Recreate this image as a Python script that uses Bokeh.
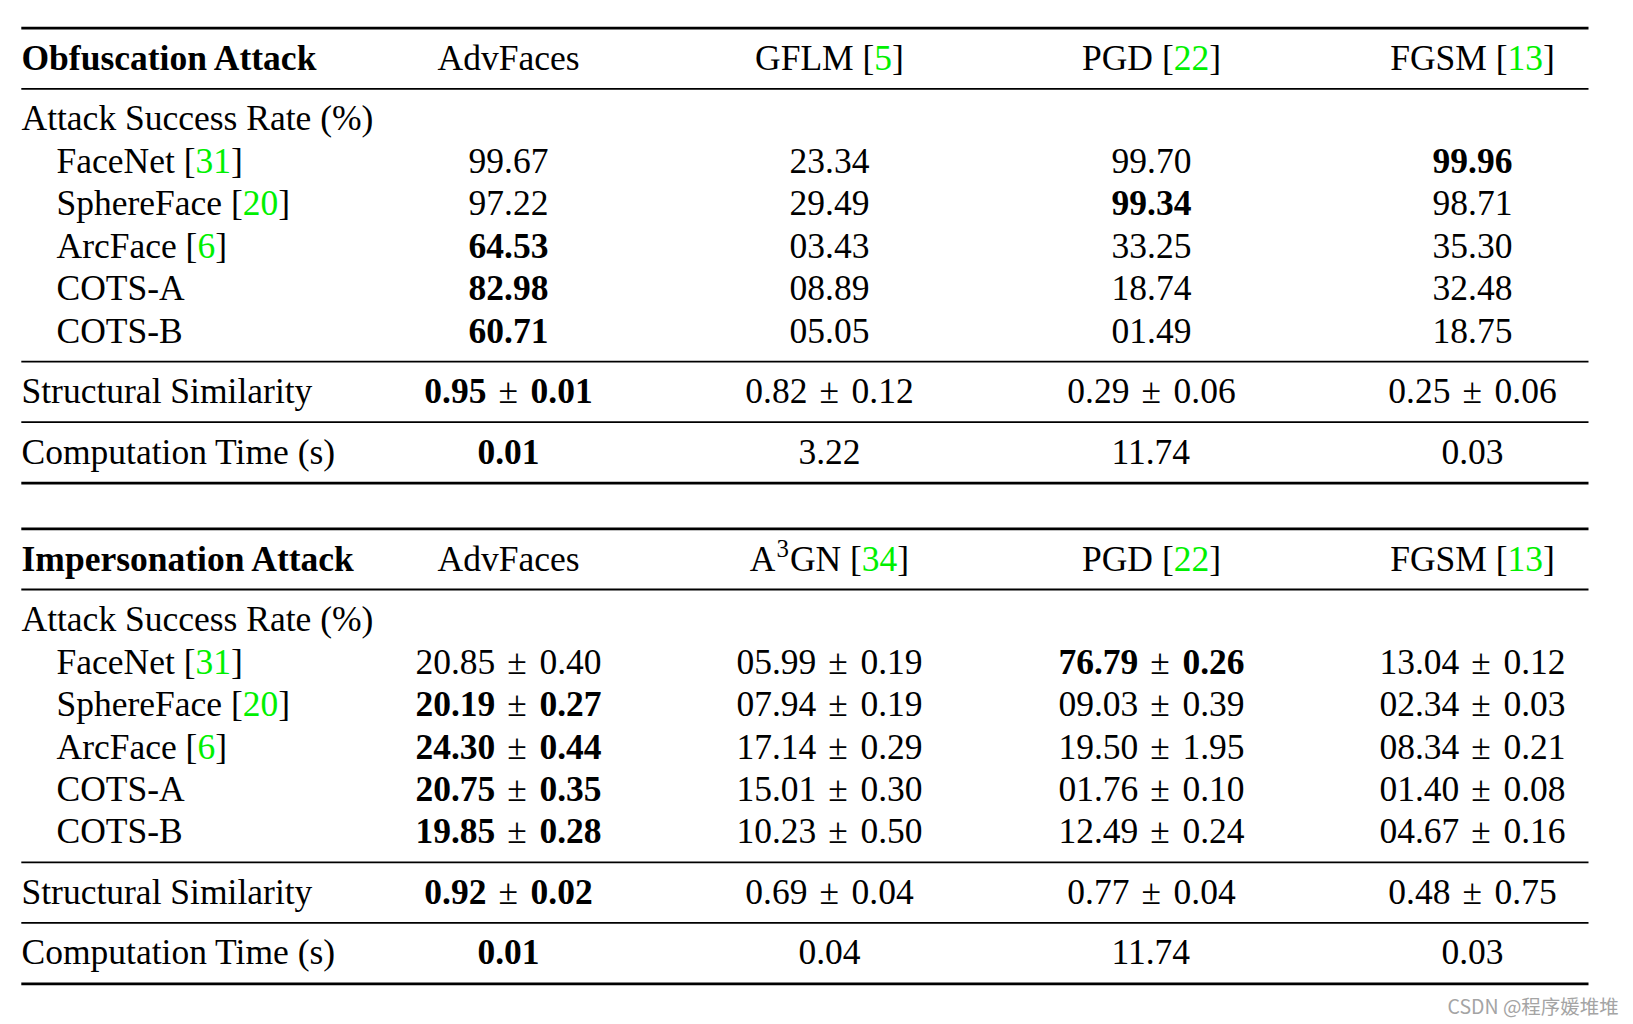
from bokeh.plotting import figure
from bokeh.models import Range1d, ColumnDataSource
from bokeh.core.properties import value
from bokeh.embed import file_html
from bokeh.resources import INLINE

# ---------------- data ----------------
matchers = ["FaceNet", "SphereFace", "ArcFace", "COTS-A", "COTS-B"]
matcher_refs = ["31", "20", "6", "", ""]
row_labels = ["Attack Success Rate (%)", "Structural Similarity", "Computation Time (s)"]

obf_title = "Obfuscation Attack"
obf_methods = ["AdvFaces", "GFLM", "PGD", "FGSM"]
obf_method_refs = ["", "5", "22", "13"]
obf_asr = [
    [99.67, 23.34, 99.70, 99.96],
    [97.22, 29.49, 99.34, 98.71],
    [64.53, 3.43, 33.25, 35.30],
    [82.98, 8.89, 18.74, 32.48],
    [60.71, 5.05, 1.49, 18.75],
]
obf_ssim_mean = [0.95, 0.82, 0.29, 0.25]
obf_ssim_std = [0.01, 0.12, 0.06, 0.06]
obf_time = [0.01, 3.22, 11.74, 0.03]

imp_title = "Impersonation Attack"
imp_methods = ["AdvFaces", "A3GN", "PGD", "FGSM"]
imp_method_refs = ["", "34", "22", "13"]
imp_asr_mean = [
    [20.85, 5.99, 76.79, 13.04],
    [20.19, 7.94, 9.03, 2.34],
    [24.30, 17.14, 19.50, 8.34],
    [20.75, 15.01, 1.76, 1.40],
    [19.85, 10.23, 12.49, 4.67],
]
imp_asr_std = [
    [0.40, 0.19, 0.26, 0.12],
    [0.27, 0.19, 0.39, 0.03],
    [0.44, 0.29, 1.95, 0.21],
    [0.35, 0.30, 0.10, 0.08],
    [0.28, 0.50, 0.24, 0.16],
]
imp_ssim_mean = [0.92, 0.69, 0.77, 0.48]
imp_ssim_std = [0.02, 0.04, 0.04, 0.75]
imp_time = [0.01, 0.04, 11.74, 0.03]

watermark = "CSDN @程序媛堆堆"

# ---------------- layout / style ----------------
FS = 35.5
FONT = "Liberation Serif"
GREEN = "#00f000"
COL_X = [508, 829, 1151, 1472]
X_LEFT = 21
X_INDENT = 56
X_RIGHT = 1588
PM_GAP = 12.0
ROW0 = 172.0
ROW_STEP = 42.4
TEXT_DY = -11.5  # renderer baseline correction

# advance widths (em) of Times-metric font
W = {"A": .722, "C": .667, "D": .722, "F": .556, "G": .722, "L": .611, "M": .889,
     "N": .722, "P": .556, "S": .556, "a": .444, "c": .444, "d": .5, "e": .444,
     "h": .5, "p": .5, "r": .333, "s": .389, "t": .278, "v": .5, " ": .25,
     "[": .333, "]": .333, ".": .25, "±": .564, "-": .333, "O": .722, "T": .611, "B": .667}


def tw(s, size=FS):
    return sum(W.get(c, 0.5) for c in s) * size


pieces = {"normal": dict(x=[], y=[], text=[], color=[], size=[]),
          "bold": dict(x=[], y=[], text=[], color=[], size=[])}


def put(x, y, s, style="normal", color="black", size=FS):
    d = pieces[style]
    d["x"].append(x)
    d["y"].append(y + TEXT_DY)
    d["text"].append(s)
    d["color"].append(color)
    d["size"].append(f"{size}px")


def label_with_ref(x, y, name, ref):
    if not ref:
        put(x, y, name)
        return
    put(x, y, name + " [")
    x2 = x + tw(name + " [")
    put(x2, y, ref, color=GREEN)
    put(x2 + tw(ref), y, "]")


def header_method(cx, y, name, ref):
    if name == "A3GN":
        sup = FS * 0.7
        parts_w = tw("A") + tw("3", sup) + 2 + tw("GN [") + tw(ref) + tw("]")
        x = cx - parts_w / 2
        put(x, y, "A")
        x += tw("A") + 1
        put(x, y - 11, "3", size=sup)
        x += tw("3", sup) + 1
        put(x, y, "GN [")
        x += tw("GN [")
        put(x, y, ref, color=GREEN)
        x += tw(ref)
        put(x, y, "]")
        return
    if not ref:
        put(cx - tw(name) / 2, y, name)
        return
    total = tw(name + " [") + tw(ref) + tw("]")
    label_with_ref(cx - total / 2, y, name, ref)


def pm_cell(cx, y, a, b, bold):
    st = "bold" if bold else "normal"
    wa, wb, wp = tw(a), tw(b), tw("±")
    total = wa + PM_GAP + wp + PM_GAP + wb
    x = cx - total / 2
    put(x, y, a, st)
    put(x + wa + PM_GAP, y, "±")
    put(x + wa + 2 * PM_GAP + wp, y, b, st)


def plain_cell(cx, y, s, bold):
    put(cx - tw(s) / 2, y, s, "bold" if bold else "normal")


rules = []  # (y, width)


def build_table(off, title, methods, refs, asr_mean, asr_std, ssim_m, ssim_s, times):
    rules.extend([(27.7 + off, 2.8), (88.3 + off, 1.8), (361.2 + off, 1.8),
                  (421.7 + off, 1.8), (482.7 + off, 2.8)])
    put(X_LEFT, 69.3 + off, title, "bold")
    for j, (m, r) in enumerate(zip(methods, refs)):
        header_method(COL_X[j], 69.3 + off, m, r)
    put(X_LEFT, 129.0 + off, row_labels[0])
    for i, (name, ref) in enumerate(zip(matchers, matcher_refs)):
        y = ROW0 + ROW_STEP * i + off
        label_with_ref(X_INDENT, y, name, ref)
        row = asr_mean[i]
        best = max(row)
        for j, v in enumerate(row):
            if asr_std is None:
                plain_cell(COL_X[j], y, f"{v:05.2f}", v == best)
            else:
                pm_cell(COL_X[j], y, f"{v:05.2f}", f"{asr_std[i][j]:.2f}", v == best)
    y = 402.0 + off
    put(X_LEFT, y, row_labels[1])
    best = max(ssim_m)
    for j in range(4):
        pm_cell(COL_X[j], y, f"{ssim_m[j]:.2f}", f"{ssim_s[j]:.2f}", ssim_m[j] == best)
    y = 462.5 + off
    put(X_LEFT, y, row_labels[2])
    best = min(times)
    for j in range(4):
        plain_cell(COL_X[j], y, f"{times[j]:.2f}", times[j] == best)


build_table(0.0, obf_title, obf_methods, obf_method_refs, obf_asr, None,
            obf_ssim_mean, obf_ssim_std, obf_time)
build_table(500.7, imp_title, imp_methods, imp_method_refs, imp_asr_mean, imp_asr_std,
            imp_ssim_mean, imp_ssim_std, imp_time)

# ---------------- figure ----------------
p = figure(width=1625, height=1020, x_range=Range1d(0, 1625), y_range=Range1d(1020, 0),
           x_axis_type=None, y_axis_type=None, toolbar_location=None,
           output_backend="svg", min_border=0)
p.outline_line_color = None
p.background_fill_color = "white"
p.border_fill_color = "white"

for (yy, lw) in rules:
    p.segment(x0=20.8, x1=X_RIGHT, y0=yy, y1=yy, line_color="black", line_width=lw)

for style, d in pieces.items():
    src = ColumnDataSource(d)
    p.text(x="x", y="y", text="text", source=src, text_color="color",
           text_font_size="size", text_font=value(FONT), text_font_style=style,
           text_align="left", text_baseline="alphabetic")

p.text(x=[1447], y=[1005], text=[watermark], text_color="#a4a4a4",
       text_font_size="19.5px", text_font=value("Noto Sans CJK SC"),
       text_align="left", text_baseline="alphabetic")

open("out.html", "w").write(file_html(p, INLINE))
